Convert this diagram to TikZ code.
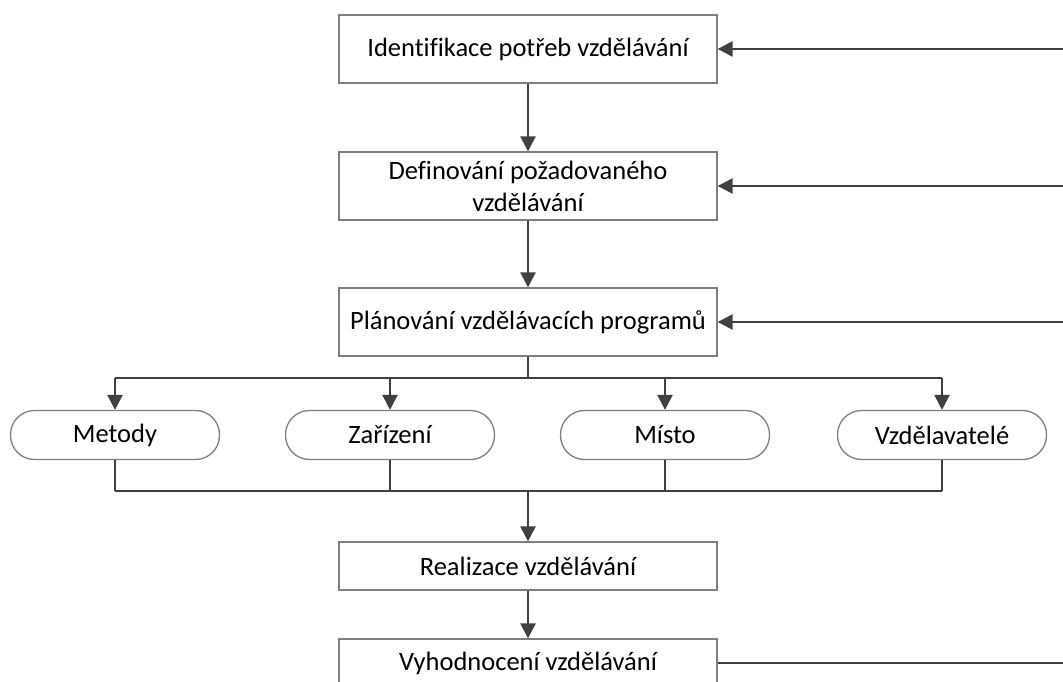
\documentclass[tikz,border=0pt]{standalone}
\usepackage{fontspec}
\setmainfont[Ligatures=NoCommon]{Carlito}
\usetikzlibrary{arrows.meta}
\definecolor{linegray}{HTML}{404040}
\definecolor{boxgray}{HTML}{7F7F7F}
\tikzset{
    stepbox/.style={draw=boxgray, line width=1.3pt, fill=white, minimum width=378pt, minimum height=68pt, align=center, inner sep=2pt},
    lowbox/.style={stepbox, minimum height=48pt},
    pill/.style={draw=boxgray, line width=1.3pt, fill=white, rounded corners=24pt, minimum width=209pt, minimum height=49pt},
    conn/.style={draw=linegray, line width=2.5pt},
    arr/.style={conn, -{Triangle[length=15pt,width=15pt]}},
}
\begin{document}
\begin{tikzpicture}[x=1pt,y=-1pt,font=\fontsize{26.5}{32}\selectfont]
    \clip (0,0) rectangle (1063,682);
    \node[stepbox] (ident) at (528,49) {Identifikace potřeb vzdělávání};
    \node[stepbox] (defin) at (528,186) {Definování požadovaného\\vzdělávání};
    \node[stepbox] (plan) at (528,322) {Plánování vzdělávacích programů};
    \node[pill] (metody) at (115,435) {Metody};
    \node[pill] (zarizeni) at (390,435) {Zařízení};
    \node[pill] (misto) at (665,435) {Místo};
    \node[pill] (vzdel) at (942,435) {Vzdělavatelé};
    \node[lowbox] (real) at (528,566) {Realizace vzdělávání};
    \node[lowbox] (vyhod) at (528,663) {Vyhodnocení vzdělávání};
    \coordinate (split) at (528,378);
    \coordinate (merge) at (528,491);
    % feedback lines leave the picture on the right
    \coordinate (fb1) at (1070,49);
    \coordinate (fb2) at (1070,186);
    \coordinate (fb3) at (1070,322);
    \coordinate (fb4) at (1070,663);
    \draw[arr] (ident) -- (defin);
    \draw[arr] (defin) -- (plan);
    \draw[conn] (plan) -- (split);
    \draw[conn] (split -| metody) -- (split -| vzdel);
    \foreach \p in {metody,zarizeni,misto,vzdel} {
        \draw[arr] (split -| \p) -- (\p);
        \draw[conn] (\p) -- (merge -| \p);
    }
    \draw[conn] (merge -| metody) -- (merge -| vzdel);
    \draw[arr] (merge) -- (real);
    \draw[arr] (real) -- (vyhod);
    \draw[arr] (fb1) -- (ident);
    \draw[arr] (fb2) -- (defin);
    \draw[arr] (fb3) -- (plan);
    \draw[conn] (vyhod) -- (fb4);
\end{tikzpicture}
\end{document}
